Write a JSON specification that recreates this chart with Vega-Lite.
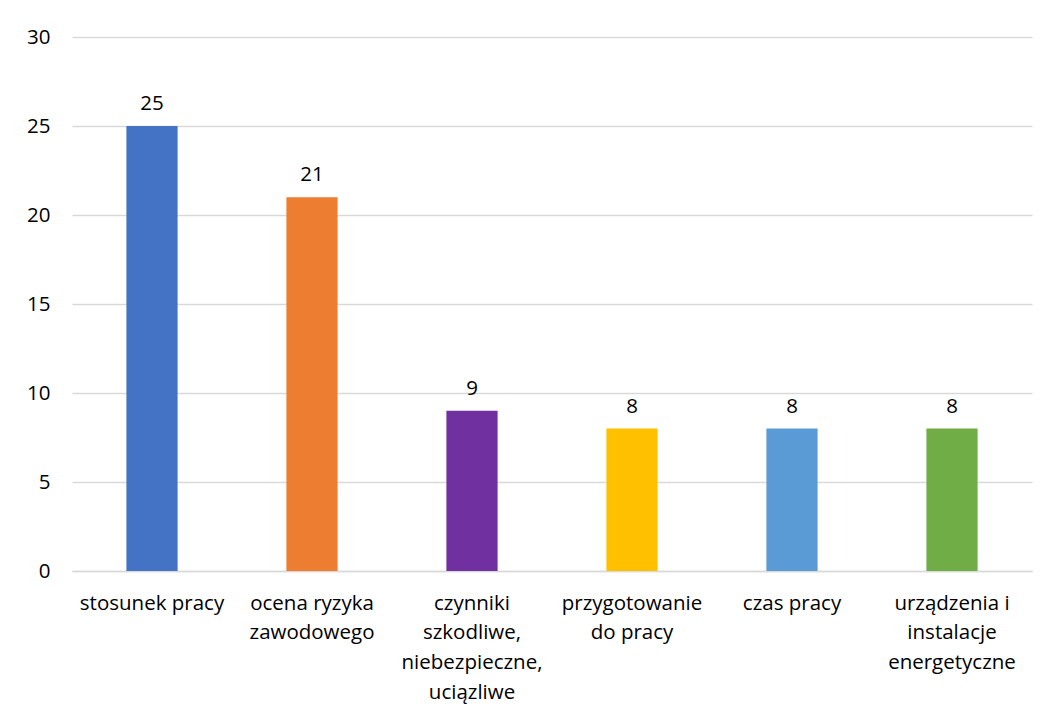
{
  "$schema": "https://vega.github.io/schema/vega-lite/v6.json",
  "width": 960,
  "height": 534,
  "autosize": {"type": "none"},
  "padding": {"left": 72, "top": 37, "right": 18, "bottom": 144},
  "background": "white",
  "config": {
    "view": {"stroke": null},
    "font": "Open Sans"
  },
  "data": {
    "values": [
      {"kategoria": "stosunek pracy", "liczba": 25, "kolor": "#4472C4"},
      {"kategoria": "ocena ryzyka zawodowego", "liczba": 21, "kolor": "#ED7D31"},
      {"kategoria": "czynniki szkodliwe, niebezpieczne, uciązliwe", "liczba": 9, "kolor": "#7030A0"},
      {"kategoria": "przygotowanie do pracy", "liczba": 8, "kolor": "#FFC000"},
      {"kategoria": "czas pracy", "liczba": 8, "kolor": "#5B9BD5"},
      {"kategoria": "urządzenia i instalacje energetyczne", "liczba": 8, "kolor": "#70AD47"}
    ]
  },
  "encoding": {
    "x": {
      "field": "kategoria",
      "type": "nominal",
      "sort": null,
      "scale": {"paddingInner": 0.68, "paddingOuter": 0.34},
      "axis": {
        "title": null,
        "labelAngle": 0,
        "labelFontSize": 20.5,
        "labelColor": "#000000",
        "labelPadding": 22,
        "labelLineHeight": 29.7,
        "labelExpr": "datum.value == 'stosunek pracy' ? ['stosunek pracy'] : datum.value == 'ocena ryzyka zawodowego' ? ['ocena ryzyka', 'zawodowego'] : datum.value == 'czynniki szkodliwe, niebezpieczne, uciązliwe' ? ['czynniki', 'szkodliwe,', 'niebezpieczne,', 'uciązliwe'] : datum.value == 'przygotowanie do pracy' ? ['przygotowanie', 'do pracy'] : datum.value == 'czas pracy' ? ['czas pracy'] : ['urządzenia i', 'instalacje', 'energetyczne']",
        "ticks": false,
        "domain": true,
        "domainColor": "#d9d9d9",
        "domainWidth": 1.3,
        "labelLimit": 300
      }
    },
    "y": {
      "field": "liczba",
      "type": "quantitative",
      "scale": {"domain": [0, 30]},
      "axis": {
        "title": null,
        "values": [0, 5, 10, 15, 20, 25, 30],
        "labelFontSize": 20.5,
        "labelColor": "#000000",
        "labelPadding": 22,
        "ticks": false,
        "domain": false,
        "grid": true,
        "gridColor": "#d9d9d9",
        "gridWidth": 1.3
      }
    }
  },
  "layer": [
    {
      "mark": {"type": "bar"},
      "encoding": {
        "color": {"field": "kolor", "type": "nominal", "scale": null, "legend": null}
      }
    },
    {
      "mark": {"type": "text", "baseline": "bottom", "dy": -12, "fontSize": 20.5, "color": "#000000"},
      "encoding": {
        "text": {"field": "liczba", "type": "quantitative"}
      }
    }
  ]
}
